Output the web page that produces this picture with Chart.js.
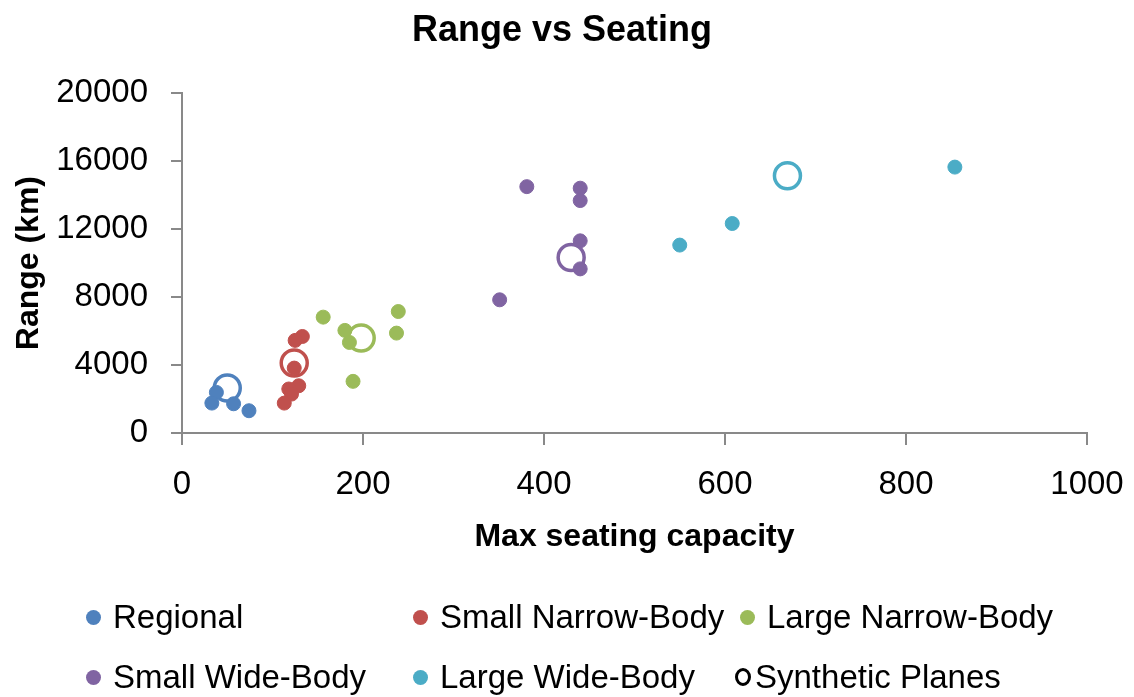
<!DOCTYPE html>
<html lang="en">

<head>
    <meta charset="UTF-8">
    <title>Range vs Seating</title>
    <style>
        body { margin: 0; background: #fff; }
        #wrap { position: relative; width: 1134px; height: 697px; }
        #legend { position: absolute; left: 0; top: 0; width: 1134px; height: 697px; pointer-events: none;
                  font-family: "Liberation Sans", Arial, sans-serif; font-size: 33px; color: #000; }
        .item { position: absolute; white-space: nowrap; line-height: 40px; height: 40px; }
        .mark { position: absolute; border-radius: 50%; box-sizing: border-box; }
    </style>
</head>

<body>
    <div id="wrap">
        <canvas id="myChart" width="1134" height="697"></canvas>
        <div id="legend"></div>
    </div>

    <script src="https://cdn.jsdelivr.net/npm/chart.js"></script>
    <script>
        // seats / range (km)
        const regionalSeats = [38, 33, 57, 74];
        const regionalRange = [2390, 1760, 1720, 1310];

        const smallNarrowSeats = [133, 125, 124, 129, 118, 121, 113];
        const smallNarrowRange = [5680, 5450, 3820, 2780, 2590, 2290, 1760];

        const largeNarrowSeats = [156, 180, 185, 239, 237, 189];
        const largeNarrowRange = [6820, 6040, 5330, 7150, 5880, 3040];

        const smallWideSeats = [381, 440, 440, 440, 440, 351];
        const smallWideRange = [14500, 14410, 13680, 11310, 9660, 7840];

        const largeWideSeats = [550, 608, 854];
        const largeWideRange = [11060, 12330, 15650];

        const syntheticSeats = [50, 124, 198, 430, 669];
        const syntheticRange = [2650, 4120, 5590, 10330, 15140];

        const xTicks = [0, 200, 400, 600, 800, 1000];
        const yTicks = [0, 4000, 8000, 12000, 16000, 20000];

        const c_blue = "#4F81BD", c_red = "#C0504D", c_green = "#9BBB59", c_purple = "#8064A2", c_cyan = "#4BACC6";
        const syntheticColors = [c_blue, c_red, c_green, c_purple, c_cyan];

        function toPoints(xs, ys) {
            let v_arr = [];
            for (let i = 0; i < xs.length; i++) {
                v_arr.push({ x: xs[i], y: ys[i] });
            }
            return v_arr;
        }

        function filled(label, xs, ys, color) {
            return {
                label: label,
                data: toPoints(xs, ys),
                pointRadius: 7,
                pointHoverRadius: 7,
                pointBorderWidth: 1,
                pointBackgroundColor: color,
                pointBorderColor: color,
                backgroundColor: color,
                borderColor: color
            };
        }

        let v_datasets = [
            filled("Regional", regionalSeats, regionalRange, c_blue),
            filled("Small Narrow-Body", smallNarrowSeats, smallNarrowRange, c_red),
            filled("Large Narrow-Body", largeNarrowSeats, largeNarrowRange, c_green),
            filled("Small Wide-Body", smallWideSeats, smallWideRange, c_purple),
            filled("Large Wide-Body", largeWideSeats, largeWideRange, c_cyan),
            {
                // last dataset is drawn first, so the rings sit behind the dots
                label: "Synthetic Planes",
                data: toPoints(syntheticSeats, syntheticRange),
                pointRadius: 13,
                pointHoverRadius: 13,
                pointBorderWidth: 3.5,
                pointBackgroundColor: "rgba(255,255,255,0)",
                pointBorderColor: syntheticColors,
                backgroundColor: "rgba(255,255,255,0)",
                borderColor: "#000"
            }
        ];

        const axisGray = "#898989";
        const tickFont = { family: "Liberation Sans", size: 33 };
        const titleFont = { family: "Liberation Sans", size: 32, weight: "bold" };
        const plainNum = (v) => String(v); // no thousands separator

        const ctx = document.getElementById("myChart");
        new Chart(ctx, {
            type: "scatter",
            data: { datasets: v_datasets },
            options: {
                responsive: false,
                animation: false,
                layout: { padding: { left: 37, right: 47, top: 0, bottom: 141 } },
                plugins: {
                    legend: { display: false },
                    tooltip: { enabled: false },
                    title: {
                        display: true,
                        text: "Range vs Seating",
                        color: "#000",
                        font: { family: "Liberation Sans", size: 36, weight: "bold" },
                        padding: { top: 9, bottom: 41 }
                    }
                },
                scales: {
                    x: {
                        type: "linear",
                        min: 0,
                        max: 1000,
                        afterBuildTicks: (s) => { s.ticks = xTicks.map(v => ({ value: v })); },
                        afterFit: (s) => { s.height = 123; },
                        // small padding keeps the "1000" overflow inside the right margin;
                        // the taller line height pushes the labels down instead
                        ticks: { color: "#000", font: { family: "Liberation Sans", size: 33, lineHeight: 1.8 }, padding: 10, maxRotation: 0, callback: plainNum },
                        grid: { drawOnChartArea: false, drawTicks: true, tickLength: 12, color: axisGray, lineWidth: 2 },
                        border: { color: axisGray, width: 2 },
                        title: { display: true, text: "Max seating capacity", color: "#000", font: titleFont, padding: 0 }
                    },
                    y: {
                        type: "linear",
                        min: 0,
                        max: 20000,
                        afterBuildTicks: (s) => { s.ticks = yTicks.map(v => ({ value: v })); },
                        afterFit: (s) => { s.width = 145; },
                        ticks: { color: "#000", font: tickFont, padding: 23, callback: plainNum },
                        grid: { drawOnChartArea: false, drawTicks: true, tickLength: 11, color: axisGray, lineWidth: 2 },
                        border: { color: axisGray, width: 2 },
                        title: { display: true, text: "Range (km)", color: "#000", font: titleFont, padding: { top: -27, bottom: 0 } }
                    }
                }
            }
        });

        // legend laid out in three columns like the original
        const legendPos = [
            { mx: 93, tx: 113, y: 617 },
            { mx: 420, tx: 440, y: 617 },
            { mx: 747, tx: 767, y: 617 },
            { mx: 93, tx: 113, y: 677 },
            { mx: 420, tx: 440, y: 677 },
            { mx: 743, tx: 755, y: 677 }
        ];
        let v_legend = document.getElementById("legend");
        for (let i = 0; i < v_datasets.length; i++) {
            let p = legendPos[i];
            let v_mark = document.createElement("div");
            v_mark.className = "mark";
            if (i === 5) {
                v_mark.style.cssText = "width:16px;height:18px;border:3px solid #000;left:" + (p.mx - 8) + "px;top:" + (p.y - 9) + "px;";
            } else {
                v_mark.style.cssText = "width:15px;height:15px;background:" + v_datasets[i].pointBackgroundColor + ";left:" + (p.mx - 7.5) + "px;top:" + (p.y - 7.5) + "px;";
            }
            v_legend.appendChild(v_mark);
            let v_item = document.createElement("div");
            v_item.className = "item";
            v_item.textContent = v_datasets[i].label;
            v_item.style.left = p.tx + "px";
            v_item.style.top = (p.y - 20) + "px";
            v_legend.appendChild(v_item);
        }
    </script>

</body>

</html>
